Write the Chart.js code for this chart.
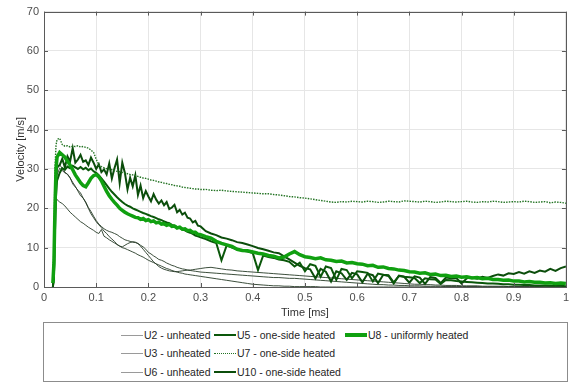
<!DOCTYPE html>
<html>
<head>
<meta charset="utf-8">
<script src="https://cdn.jsdelivr.net/npm/chart.js@4.4.0/dist/chart.umd.min.js"></script>
<style>
    body { margin: 0; background: #fff; font-family: 'Liberation Sans', Arial, sans-serif; }
    #grafico { position: absolute; left: 0; top: 0; }
    #legenda { position: absolute; left: 43px; top: 322px; width: 525px; height: 60px; border: 1px solid #8c8c8c; box-sizing: border-box; }
    .item { position: absolute; font-size: 10.5px; color: #262626; white-space: nowrap; line-height: 14px; padding-left: 23px; }
    .amostra { position: absolute; left: 0; width: 22px; }
</style>
</head>
<body>
<canvas id="grafico" width="573" height="320"></canvas>
<div id="legenda"></div>
<script>

// tempo [ms]
var tempo = [
    0.017, 0.019, 0.021, 0.023, 0.025,
    0.030, 0.035, 0.040, 0.045, 0.050, 0.055, 0.060, 0.065, 0.070, 0.075,
    0.080, 0.085, 0.090, 0.095, 0.100, 0.105, 0.110, 0.115, 0.120, 0.125,
    0.130, 0.135, 0.140, 0.145, 0.150, 0.155, 0.160, 0.165, 0.170, 0.175,
    0.180, 0.185, 0.190, 0.195, 0.200, 0.205, 0.210, 0.215, 0.220, 0.225,
    0.230, 0.235, 0.240, 0.245, 0.250, 0.255, 0.260, 0.265, 0.270, 0.275,
    0.280, 0.285, 0.290, 0.295, 0.300,
    0.31, 0.32, 0.33, 0.34, 0.35, 0.36, 0.37, 0.38, 0.39, 0.40,
    0.41, 0.42, 0.43, 0.44, 0.45, 0.46, 0.47, 0.48, 0.49, 0.50,
    0.51, 0.52, 0.53, 0.54, 0.55, 0.56, 0.57, 0.58, 0.59, 0.60,
    0.61, 0.62, 0.63, 0.64, 0.65, 0.66, 0.67, 0.68, 0.69, 0.70,
    0.71, 0.72, 0.73, 0.74, 0.75, 0.76, 0.77, 0.78, 0.79, 0.80,
    0.81, 0.82, 0.83, 0.84, 0.85, 0.86, 0.87, 0.88, 0.89, 0.90,
    0.91, 0.92, 0.93, 0.94, 0.95, 0.96, 0.97, 0.98, 0.99, 1.00
];

// velocidades [m/s]
var u2 = [
    0, 4, 16, 26, 30,
    31.0, 30.2, 29.2, 28.6, 27.7, 26.6, 25.6, 24.4, 23.2, 22.6,
    21.6, 20.2, 19.2, 18.0, 16.9, 16.0, 15.4, 14.8, 14.4, 14.1,
    13.9, 13.6, 13.3, 12.8, 12.4, 12.0, 11.8, 11.6, 11.4, 11.3,
    11.1, 10.6, 10.2, 9.6, 8.8, 8.4, 7.9, 7.5, 7.0, 6.8,
    6.5, 6.1, 5.8, 5.5, 5.3, 5.0, 4.8, 4.6, 4.5, 4.3,
    4.2, 4.1, 4.0, 3.9, 3.8,
    3.7, 3.6, 3.5, 3.4, 3.3, 3.2, 3.1, 3.0, 2.9, 2.8,
    2.7, 2.6, 2.5, 2.4, 2.4, 2.3, 2.2, 2.2, 2.1, 2.0,
    1.9, 1.8, 1.7, 1.6, 1.5, 1.4, 1.3, 1.2, 1.1, 1.0,
    0.9, 0.8, 0.7, 0.6, 0.6, 0.5, 0.5, 0.4, 0.4, 0.3,
    0.3, 0.3, 0.2, 0.2, 0.2, 0.2, 0.1, 0.1, 0.1, 0.1,
    0.1, 0.1, 0.1, 0.0, 0.0, 0.0, 0.0, 0.0, 0.0, 0.0,
    0.0, 0.0, 0.0, 0.0, 0.0, 0.0, 0.0, 0.0, 0.0, 0.0
];
var u3 = [
    0, 3, 14, 24, 28.5,
    30.2, 29.6, 29.0, 28.7, 27.8, 26.2, 25.4, 24.6, 23.9, 22.6,
    21.4, 20.0, 18.6, 17.6, 16.6, 15.8, 15.1, 14.2, 13.6, 12.8,
    12.2, 11.6, 10.8, 10.4, 10.2, 10.6, 11.0, 11.3, 11.5, 11.4,
    11.0, 10.4, 9.6, 8.8, 8.0, 7.2, 6.4, 5.8, 5.2, 4.8,
    4.5, 4.3, 4.1, 4.0, 3.9, 3.9, 4.0, 4.1, 4.2, 4.3,
    4.3, 4.4, 4.5, 4.6, 4.7,
    4.9, 5.0, 4.8, 4.6, 4.4, 4.3, 4.1, 4.0, 3.9, 3.8,
    3.7, 3.6, 3.5, 3.4, 3.3, 3.2, 3.1, 3.0, 2.9, 2.8,
    2.7, 2.6, 2.5, 2.4, 2.3, 2.2, 2.1, 2.0, 1.9, 1.8,
    1.7, 1.6, 1.5, 1.4, 1.3, 1.2, 1.1, 1.0, 0.9, 0.8,
    0.7, 0.7, 0.6, 0.6, 0.5, 0.5, 0.4, 0.4, 0.4, 0.3,
    0.3, 0.3, 0.3, 0.2, 0.2, 0.2, 0.2, 0.2, 0.1, 0.1,
    0.1, 0.1, 0.1, 0.1, 0.1, 0.0, 0.0, 0.0, 0.0, 0.0
];
var u6 = [
    6.2, 2.0, 23.2, 22.6, 22.2,
    21.6, 21.2, 20.6, 19.8, 19.0, 18.4, 17.8, 17.2, 16.6, 16.2,
    15.7, 15.2, 14.8, 14.4, 13.9, 13.6, 14.6, 12.9, 12.5, 12.0,
    11.6, 11.2, 10.8, 10.4, 10.0, 9.8, 9.5, 9.2, 8.9, 8.6,
    8.2, 7.9, 7.6, 7.2, 6.8, 6.5, 6.2, 5.9, 5.6, 5.3,
    5.0, 4.7, 4.5, 4.2, 4.0, 3.8, 3.6, 3.5, 3.3, 3.2,
    3.1, 3.0, 2.9, 2.8, 2.7,
    2.5, 2.3, 2.1, 1.9, 1.7, 1.5, 1.3, 1.1, 0.9, 0.7,
    0.6, 0.5, 0.4, 0.3, 0.3, 0.2, 0.2, 0.1, 0.1, 0.1,
    0.1, 0.1, 0.0, 0.0, 0.0, 0.0, 0.0, 0.0, 0.0, 0.0,
    0.0, 0.0, 0.0, 0.0, 0.0, 0.0, 0.0, 0.0, 0.0, 0.0,
    0.0, 0.0, 0.0, 0.0, 0.0, 0.0, 0.0, 0.0, 0.0, 0.0,
    0.0, 0.0, 0.0, 0.0, 0.0, 0.0, 0.0, 0.0, 0.0, 0.0,
    0.0, 0.0, 0.0, 0.0, 0.0, 0.0, 0.0, 0.0, 0.0, 0.0
];
var u5 = [
    0, 3, 14, 23, 27,
    29.0, 30.2, 29.8, 30.6, 30.2, 30.8, 30.4, 30.0, 30.5, 29.9,
    30.3, 29.7, 30.1, 29.4, 29.0, 28.4, 27.6, 26.8, 25.9, 25.0,
    24.2, 23.5, 22.8, 22.2, 21.6, 21.1, 20.7, 20.4, 20.0, 19.7,
    19.4, 19.1, 18.8, 18.6, 18.3, 18.0, 17.8, 17.5, 17.2, 17.0,
    16.7, 16.4, 16.2, 15.8, 15.6, 15.2, 15.0, 14.6, 14.4, 14.0,
    13.8, 13.5, 13.1, 12.9, 12.6,
    12.2, 11.6, 11.2, 6.8, 10.6, 10.0, 9.6, 9.3, 9.0, 8.6,
    4.3, 8.0, 7.6, 7.4, 7.0, 6.8, 6.4, 5.2, 6.2, 4.0,
    5.8, 5.4, 2.6, 5.2, 4.8, 1.8, 4.6, 4.3, 2.2, 4.0,
    3.8, 3.6, 1.4, 3.4, 3.1, 3.0, 1.2, 2.8, 2.6, 2.5,
    2.3, 1.0, 2.2, 2.0, 1.9, 0.8, 1.8, 1.7, 1.5, 1.4,
    1.3, 1.2, 1.1, 1.0, 0.9, 0.9, 0.8, 0.7, 0.7, 0.6,
    0.6, 0.5, 0.5, 0.4, 0.4, 0.4, 0.3, 0.3, 0.3, 0.2
];
var u7 = [
    2, 10, 30, 36, 37.5,
    37.8, 36.2, 35.8, 35.9, 35.6, 35.8, 35.7, 35.9, 35.6, 35.7,
    35.5, 35.3, 34.8, 34.2, 32.5, 31.0, 30.6, 30.3, 30.1, 30.0,
    29.8, 29.6, 29.4, 29.3, 29.1, 28.9, 28.8, 28.6, 28.5, 28.3,
    28.1, 27.9, 27.7, 27.6, 27.4, 27.2, 27.1, 26.9, 26.7, 26.6,
    26.4, 26.3, 26.1, 26.0, 25.8, 25.7, 25.6, 25.4, 25.3, 25.2,
    25.1, 25.0, 24.9, 24.9, 24.8,
    24.8, 24.6, 24.5, 24.6, 24.4, 24.3, 24.2, 24.1, 24.0, 23.9,
    23.8, 23.7, 23.7, 23.5, 23.4, 23.2, 23.0, 22.9, 22.7, 22.6,
    22.4, 22.2, 22.0, 21.8, 21.6, 21.5, 21.7, 21.6, 21.8, 21.7,
    21.6, 21.8, 21.7, 21.5, 21.6, 21.8, 21.7, 21.6, 21.9, 21.8,
    21.7, 21.6, 21.8, 21.7, 21.5, 21.6, 21.8, 21.7, 21.6, 21.7,
    21.8, 21.6, 21.5, 21.7, 21.6, 21.8, 21.7, 21.5, 21.6, 21.7,
    21.6, 21.8, 21.7, 21.5, 21.6, 21.7, 21.4, 21.6, 21.5, 21.3
];
var u10 = [
    0, 2, 18, 28, 30.5,
    31.0, 32.6, 30.4, 33.2, 31.9, 35.3, 31.6, 32.4, 33.6, 31.8,
    32.2, 31.0, 32.9, 31.6, 30.0, 31.2, 29.2, 29.9, 28.6, 31.4,
    27.6, 30.2, 32.4, 26.4, 31.6, 29.0, 24.8, 27.8, 25.6, 28.4,
    23.4, 25.8, 22.6, 24.4, 23.0, 21.8, 23.6, 22.2, 21.2, 22.0,
    20.8, 21.6, 19.8, 20.2, 20.9, 19.0, 19.6, 18.4, 18.9, 17.6,
    17.4, 16.4, 16.8, 15.6, 15.4,
    14.2, 13.6, 13.2, 12.6, 12.3, 11.9, 11.4, 11.2, 10.8, 10.4,
    9.9, 9.6, 9.2, 8.8, 8.6, 7.8, 7.0, 6.2, 5.4, 4.8,
    4.5, 2.2, 4.6, 3.9, 1.4, 4.0, 3.5, 1.8, 3.6, 3.2,
    1.2, 3.4, 3.0, 1.0, 3.1, 2.8, 0.9, 2.9, 2.6, 1.1,
    2.7, 2.4, 0.8, 2.5, 2.3, 1.0, 2.4, 2.2, 2.3, 0.9,
    2.2, 2.4, 2.1, 2.6, 2.3, 2.8, 3.2, 2.9, 3.5, 3.3,
    3.8, 3.4, 4.0, 3.6, 4.2, 3.9, 4.6, 4.1, 4.8, 5.2
];
var u8 = [
    1.0, 6, 20, 30, 33,
    34.2, 33.6, 33.0, 32.0, 31.0, 29.8, 28.5, 27.5, 26.5, 25.8,
    25.5, 26.5, 27.6, 28.3, 28.6, 28.0, 27.0, 25.6, 24.3, 23.2,
    22.3, 21.5, 20.8, 20.0, 19.5, 19.0, 18.6, 18.3, 18.0, 17.7,
    17.6, 17.2, 17.4, 16.9, 17.1, 16.6, 16.8, 16.3, 16.5, 16.0,
    16.1, 15.7, 15.9, 15.4, 15.5, 15.0, 15.2, 14.7, 14.8, 14.3,
    14.4, 13.9, 13.9, 13.4, 13.3,
    12.8, 12.4, 11.6, 11.1, 10.7, 10.3, 9.6, 9.3, 9.2, 8.9,
    8.6, 8.4, 8.0, 7.8, 7.4, 7.6, 8.4, 9.0, 8.2, 7.7,
    7.5, 7.2, 7.4, 6.9, 6.8, 6.5, 6.6, 6.1, 6.2, 5.9,
    5.8, 5.4, 5.5, 5.0, 5.1, 4.7, 4.6, 4.3, 4.2, 3.9,
    3.8, 3.5, 3.6, 3.2, 3.3, 2.9, 3.0, 2.7, 2.8, 2.5,
    2.6, 2.3, 2.4, 2.1, 2.2, 1.9, 1.9, 1.7, 1.8, 1.5,
    1.5, 1.3, 1.4, 1.2, 1.2, 1.0, 1.1, 0.9, 1.0, 0.9
];

var nomes = [
    'U2 - unheated', 'U3 - unheated', 'U6 - unheated',
    'U5 - one-side heated', 'U7 - one-side heated', 'U10 - one-side heated',
    'U8 - uniformly heated'
];
var valores = [u2, u3, u6, u5, u7, u10, u8];
var cores = ['#263a26', '#263a26', '#263a26', '#0a570a', '#237323', '#0b4d0b', '#10a010'];
var larguras = [0.9, 0.9, 0.9, 2, 1.4, 2, 3.5];
var tracos = [[], [], [], [], [1.5, 1.2], [], []];
var ordem = [3, 3, 3, 2, 2, 2, 1];

var dados = { datasets: [] };

for (var i = 0; i < nomes.length; i++) {
    var pontos = [];
    for (var j = 0; j < tempo.length; j++) {
        pontos.push({ x: tempo[j], y: valores[i][j] });
    }
    dados.datasets.push({
        label: nomes[i],
        data: pontos,
        borderColor: cores[i],
        borderWidth: larguras[i],
        borderDash: tracos[i],
        pointRadius: 0,
        tension: 0,
        order: ordem[i]
    });
}

// caixa dos eixos com marcas internas (estilo MATLAB)
var caixaEixos = {
    id: 'caixaEixos',
    afterDraw: function (chart) {
        var ctx = chart.ctx;
        var a = chart.chartArea;
        var sx = chart.scales.x;
        var sy = chart.scales.y;
        ctx.save();
        ctx.strokeStyle = '#5a5a5a';
        ctx.lineWidth = 1;
        ctx.beginPath();
        sx.ticks.forEach(function (t) {
            var px = Math.round(sx.getPixelForValue(t.value)) + 0.5;
            ctx.moveTo(px, a.top); ctx.lineTo(px, a.top + 4);
            ctx.moveTo(px, a.bottom); ctx.lineTo(px, a.bottom - 4);
        });
        sy.ticks.forEach(function (t) {
            var py = Math.round(sy.getPixelForValue(t.value)) + 0.5;
            ctx.moveTo(a.left, py); ctx.lineTo(a.left + 4, py);
            ctx.moveTo(a.right, py); ctx.lineTo(a.right - 4, py);
        });
        ctx.stroke();
        ctx.strokeRect(Math.round(a.left) + 0.5, Math.round(a.top) + 0.5, Math.round(a.right - a.left), Math.round(a.bottom - a.top));
        ctx.restore();
    }
};

var fonte = { family: "'Liberation Sans', Arial, sans-serif", size: 11 };

const config = {
    type: 'line',
    data: dados,
    options: {
        responsive: false,
        animation: false,
        layout: { padding: { left: 0, right: 7, top: 9, bottom: 0 } },
        plugins: {
            legend: { display: false },
            tooltip: { enabled: false }
        },
        scales: {
            x: {
                type: 'linear',
                min: 0,
                max: 1,
                afterFit: function (s) { s.height = 33; },
                ticks: {
                    stepSize: 0.1, color: '#4d4d4d', font: fonte, padding: 4, maxRotation: 0,
                    callback: function (v) { return String(Number(v.toFixed(1))); }
                },
                grid: { color: '#e6e6e6', drawTicks: false },
                border: { display: false },
                title: { display: true, text: 'Time [ms]', color: '#333', font: fonte, padding: { top: 0, bottom: 0 } }
            },
            y: {
                min: 0,
                max: 70,
                afterFit: function (s) { s.width = 44; },
                ticks: { stepSize: 10, color: '#4d4d4d', font: fonte, padding: 5 },
                grid: { color: '#e6e6e6', drawTicks: false },
                border: { display: false },
                title: { display: true, text: 'Velocity [m/s]', color: '#333', font: fonte, padding: { top: 14, bottom: 0 } }
            }
        }
    },
    plugins: [caixaEixos]
};

let myChart = new Chart(document.getElementById('grafico'), config);

// legenda em 3 colunas (ordem por coluna)
var legenda = document.getElementById('legenda');
var colunas = [77, 170, 301];
var linhas = [5, 23, 42];
var posicoes = [[0, 0], [0, 1], [0, 2], [1, 0], [1, 1], [1, 2], [2, 0]];
var coresLegenda = ['#9a9a9a', '#9a9a9a', '#9a9a9a', '#0a570a', '#237323', '#0b4d0b', '#10a010'];

for (var k = 0; k < nomes.length; k++) {
    var h = Math.max(1, Math.round(larguras[k]));
    var estilo = tracos[k].length ? 'dotted' : 'solid';
    legenda.innerHTML +=
        `<div class="item" style="left:${colunas[posicoes[k][0]]}px; top:${linhas[posicoes[k][1]]}px;">
            <div class="amostra" style="top:${7 - Math.floor(h / 2)}px; border-top:${h}px ${estilo} ${coresLegenda[k]};"></div>${nomes[k]}
        </div>`;
}
</script>
</body>
</html>
